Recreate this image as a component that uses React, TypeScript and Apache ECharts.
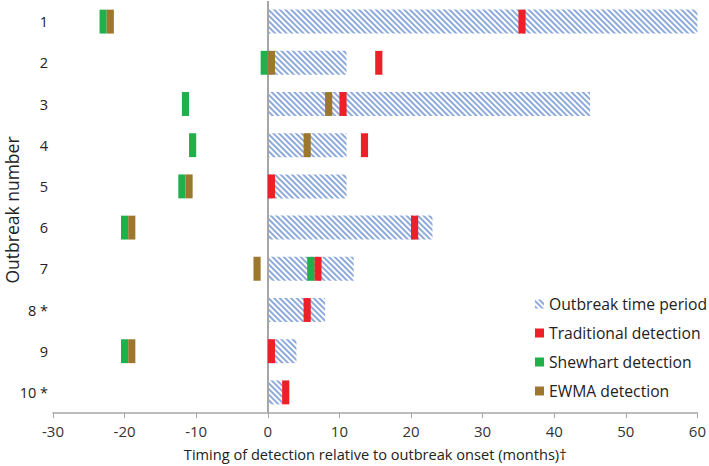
import React, { useEffect, useRef } from "react";
import * as echarts from "echarts";

const categories = ["1", "2", "3", "4", "5", "6", "7", "8 *", "9", "10 *"];
const outbreakEnd = [60, 11, 45, 11, 11, 23, 12, 8, 4, 2];
// [row index, start month, end month]
const traditional = [
  [0, 35, 36], [1, 15, 16], [2, 10, 11], [3, 13, 14], [4, 0, 1],
  [5, 20, 21], [6, 6.5, 7.5], [7, 5, 6], [8, 0, 1], [9, 2, 3],
];
const shewhart = [
  [0, -23.5, -22.5], [1, -1, 0], [2, -12, -11], [3, -11, -10],
  [4, -12.5, -11.5], [5, -20.5, -19.5], [6, 5.5, 6.5], [8, -20.5, -19.5],
];
const ewma = [
  [0, -22.5, -21.5], [1, 0, 1], [2, 8, 9], [3, 5, 6],
  [4, -11.5, -10.5], [5, -19.5, -18.5], [6, -2, -1], [8, -19.5, -18.5],
];
const xTicks = { min: -30, max: 60, interval: 10 };

const FONT = "Open Sans";

const renderMark = (params: any, api: any) => {
  const row = api.value(0);
  const s = api.coord([api.value(1), row]);
  const e = api.coord([api.value(2), row]);
  const h = api.size([0, 1])[1] * 0.58;
  return {
    type: "rect",
    shape: { x: s[0], y: s[1] - h / 2, width: e[0] - s[0], height: h },
    style: { fill: api.visual("color") },
  };
};

export default function App() {
  const ref = useRef<HTMLDivElement>(null);
  useEffect(() => {
    const chart = echarts.init(ref.current!, null, { renderer: "svg" });
    chart.setOption({
      animation: false,
      textStyle: { fontFamily: FONT },
      grid: { left: 53, right: 9, top: 1, bottom: 48 },
      legend: {
        orient: "vertical",
        left: 530,
        top: 291,
        itemWidth: 9,
        itemHeight: 9,
        itemGap: 13,
        textStyle: { fontSize: 15.7, lineHeight: 16, color: "#222", fontFamily: FONT },
        data: [
          { name: "Outbreak time period", icon: "rect" },
          { name: "Traditional detection", icon: "rect" },
          { name: "Shewhart detection", icon: "rect" },
          { name: "EWMA detection", icon: "rect" },
        ],
      },
      xAxis: {
        type: "value",
        min: xTicks.min,
        max: xTicks.max,
        interval: xTicks.interval,
        name: "Timing of detection relative to outbreak onset (months)†",
        nameLocation: "middle",
        nameGap: 33,
        nameTextStyle: { fontSize: 14.6, color: "#222" },
        axisLine: { show: true, lineStyle: { color: "#a6a6a6", width: 1.5 } },
        axisTick: { show: true, length: 5, lineStyle: { color: "#a6a6a6" } },
        axisLabel: { fontSize: 15, color: "#333", margin: 10 },
        splitLine: { show: false },
      },
      yAxis: {
        type: "category",
        inverse: true,
        data: categories,
        axisLine: { show: false },
        axisTick: { show: false },
        axisLabel: { fontSize: 14.5, color: "#222", margin: 5 },
        splitLine: { show: false },
      },
      graphic: [
        {
          type: "text",
          x: 3,
          y: 210,
          rotation: Math.PI / 2,
          style: {
            text: "Outbreak number",
            fontSize: 17.5,
            fontFamily: FONT,
            fill: "#222",
            align: "center",
            verticalAlign: "top",
          },
        },
      ],
      series: [
        {
          name: "Outbreak time period",
          type: "bar",
          data: outbreakEnd,
          barWidth: 24,
          itemStyle: {
            color: "#ffffff",
            decal: {
              symbol: "rect",
              symbolSize: 1,
              dashArrayX: [1, 0],
              dashArrayY: [1.3, 1.7],
              rotation: Math.PI / 4,
              color: "#8eaadb",
            },
          },
          markLine: {
            silent: true,
            symbol: "none",
            label: { show: false },
            lineStyle: { color: "#a6a6a6", width: 2, type: "solid" },
            data: [{ xAxis: 0 }],
          },
        },
        {
          name: "Traditional detection",
          type: "custom",
          renderItem: renderMark,
          encode: { x: [1, 2], y: 0 },
          itemStyle: { color: "#ed1f27" },
          data: traditional,
          z: 5,
        },
        {
          name: "Shewhart detection",
          type: "custom",
          renderItem: renderMark,
          encode: { x: [1, 2], y: 0 },
          itemStyle: { color: "#1fb04c" },
          data: shewhart,
          z: 5,
        },
        {
          name: "EWMA detection",
          type: "custom",
          renderItem: renderMark,
          encode: { x: [1, 2], y: 0 },
          itemStyle: { color: "#9d772e" },
          data: ewma,
          z: 6,
        },
      ],
    });
    return () => chart.dispose();
  }, []);
  return <div ref={ref} style={{ width: 709, height: 466, position: "absolute", left: 0, top: 0 }} />;
}
